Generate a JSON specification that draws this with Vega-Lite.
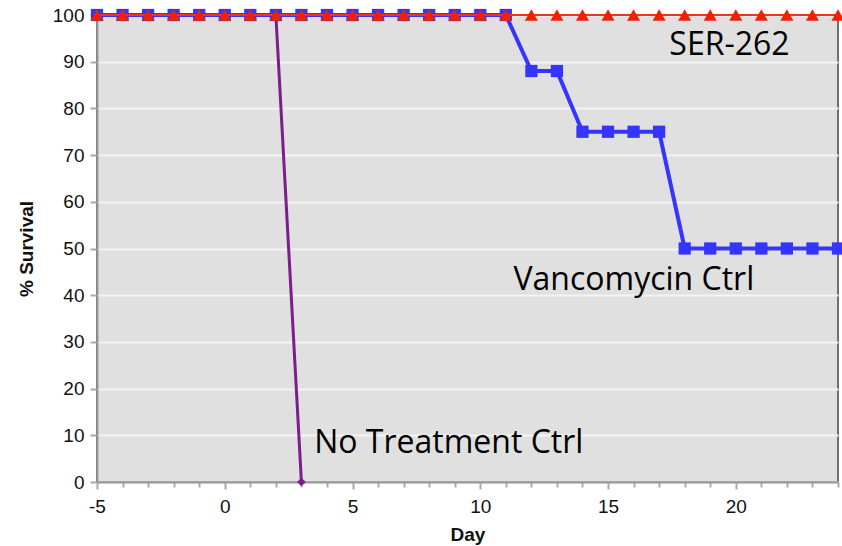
{
  "$schema": "https://vega.github.io/schema/vega-lite/v6.json",
  "autosize": "none",
  "width": 741,
  "height": 467,
  "padding": {"left": 97, "top": 15, "right": 4, "bottom": 64},
  "background": "white",
  "config": {
    "view": {"fill": "#e0e0e0", "stroke": "#707070", "strokeWidth": 2},
    "axis": {
      "labelFont": "Liberation Sans",
      "labelFontSize": 19,
      "labelColor": "#111",
      "titleFont": "Liberation Sans",
      "titleFontSize": 19,
      "titleFontWeight": "bold",
      "titleColor": "#111",
      "domainColor": "#999",
      "domainWidth": 2,
      "tickColor": "#aaa",
      "tickWidth": 2
    }
  },
  "datasets": {
    "series": [
      {"day": -5, "survival": 100, "group": "No Treatment Ctrl"},
      {"day": -4, "survival": 100, "group": "No Treatment Ctrl"},
      {"day": -3, "survival": 100, "group": "No Treatment Ctrl"},
      {"day": -2, "survival": 100, "group": "No Treatment Ctrl"},
      {"day": -1, "survival": 100, "group": "No Treatment Ctrl"},
      {"day": 0, "survival": 100, "group": "No Treatment Ctrl"},
      {"day": 1, "survival": 100, "group": "No Treatment Ctrl"},
      {"day": 2, "survival": 100, "group": "No Treatment Ctrl"},
      {"day": 3, "survival": 0, "group": "No Treatment Ctrl"},
      {"day": -5, "survival": 100, "group": "Vancomycin Ctrl"},
      {"day": -4, "survival": 100, "group": "Vancomycin Ctrl"},
      {"day": -3, "survival": 100, "group": "Vancomycin Ctrl"},
      {"day": -2, "survival": 100, "group": "Vancomycin Ctrl"},
      {"day": -1, "survival": 100, "group": "Vancomycin Ctrl"},
      {"day": 0, "survival": 100, "group": "Vancomycin Ctrl"},
      {"day": 1, "survival": 100, "group": "Vancomycin Ctrl"},
      {"day": 2, "survival": 100, "group": "Vancomycin Ctrl"},
      {"day": 3, "survival": 100, "group": "Vancomycin Ctrl"},
      {"day": 4, "survival": 100, "group": "Vancomycin Ctrl"},
      {"day": 5, "survival": 100, "group": "Vancomycin Ctrl"},
      {"day": 6, "survival": 100, "group": "Vancomycin Ctrl"},
      {"day": 7, "survival": 100, "group": "Vancomycin Ctrl"},
      {"day": 8, "survival": 100, "group": "Vancomycin Ctrl"},
      {"day": 9, "survival": 100, "group": "Vancomycin Ctrl"},
      {"day": 10, "survival": 100, "group": "Vancomycin Ctrl"},
      {"day": 11, "survival": 100, "group": "Vancomycin Ctrl"},
      {"day": 12, "survival": 88, "group": "Vancomycin Ctrl"},
      {"day": 13, "survival": 88, "group": "Vancomycin Ctrl"},
      {"day": 14, "survival": 75, "group": "Vancomycin Ctrl"},
      {"day": 15, "survival": 75, "group": "Vancomycin Ctrl"},
      {"day": 16, "survival": 75, "group": "Vancomycin Ctrl"},
      {"day": 17, "survival": 75, "group": "Vancomycin Ctrl"},
      {"day": 18, "survival": 50, "group": "Vancomycin Ctrl"},
      {"day": 19, "survival": 50, "group": "Vancomycin Ctrl"},
      {"day": 20, "survival": 50, "group": "Vancomycin Ctrl"},
      {"day": 21, "survival": 50, "group": "Vancomycin Ctrl"},
      {"day": 22, "survival": 50, "group": "Vancomycin Ctrl"},
      {"day": 23, "survival": 50, "group": "Vancomycin Ctrl"},
      {"day": 24, "survival": 50, "group": "Vancomycin Ctrl"},
      {"day": -5, "survival": 100, "group": "SER-262"},
      {"day": -4, "survival": 100, "group": "SER-262"},
      {"day": -3, "survival": 100, "group": "SER-262"},
      {"day": -2, "survival": 100, "group": "SER-262"},
      {"day": -1, "survival": 100, "group": "SER-262"},
      {"day": 0, "survival": 100, "group": "SER-262"},
      {"day": 1, "survival": 100, "group": "SER-262"},
      {"day": 2, "survival": 100, "group": "SER-262"},
      {"day": 3, "survival": 100, "group": "SER-262"},
      {"day": 4, "survival": 100, "group": "SER-262"},
      {"day": 5, "survival": 100, "group": "SER-262"},
      {"day": 6, "survival": 100, "group": "SER-262"},
      {"day": 7, "survival": 100, "group": "SER-262"},
      {"day": 8, "survival": 100, "group": "SER-262"},
      {"day": 9, "survival": 100, "group": "SER-262"},
      {"day": 10, "survival": 100, "group": "SER-262"},
      {"day": 11, "survival": 100, "group": "SER-262"},
      {"day": 12, "survival": 100, "group": "SER-262"},
      {"day": 13, "survival": 100, "group": "SER-262"},
      {"day": 14, "survival": 100, "group": "SER-262"},
      {"day": 15, "survival": 100, "group": "SER-262"},
      {"day": 16, "survival": 100, "group": "SER-262"},
      {"day": 17, "survival": 100, "group": "SER-262"},
      {"day": 18, "survival": 100, "group": "SER-262"},
      {"day": 19, "survival": 100, "group": "SER-262"},
      {"day": 20, "survival": 100, "group": "SER-262"},
      {"day": 21, "survival": 100, "group": "SER-262"},
      {"day": 22, "survival": 100, "group": "SER-262"},
      {"day": 23, "survival": 100, "group": "SER-262"},
      {"day": 24, "survival": 100, "group": "SER-262"}
    ],
    "labels": [
      {"day": 17.4, "survival": 93.6, "label": "SER-262"},
      {"day": 11.3, "survival": 43.3, "label": "Vancomycin Ctrl"},
      {"day": 3.5, "survival": 8.4, "label": "No Treatment Ctrl"}
    ]
  },
  "encoding": {
    "x": {
      "field": "day", "type": "quantitative",
      "scale": {"domain": [-5, 24], "nice": false, "zero": false},
      "axis": {
        "title": "Day",
        "grid": false,
        "values": [-5,-4,-3,-2,-1,0,1,2,3,4,5,6,7,8,9,10,11,12,13,14,15,16,17,18,19,20,21,22,23,24],
        "labelExpr": "datum.value % 5 === 0 ? ('' + datum.value) : ''",
        "tickSize": {"condition": {"test": "datum.value % 5 === 0", "value": 7}, "value": 5},
        "labelPadding": 8,
        "titlePadding": 9,
        "labelFlush": false
      }
    },
    "y": {
      "field": "survival", "type": "quantitative",
      "scale": {"domain": [0, 100], "nice": false},
      "axis": {
        "title": "% Survival",
        "values": [0,10,20,30,40,50,60,70,80,90,100],
        "grid": true,
        "gridColor": "#f4f4f4",
        "gridWidth": 2,
        "tickSize": 7,
        "labelPadding": 6,
        "titlePadding": 16,
        "labelFlush": false
      }
    }
  },
  "layer": [
    {
      "data": {"name": "series"},
      "transform": [{"filter": "datum.group === 'No Treatment Ctrl'"}],
      "mark": {"type": "line", "color": "#7b1e8c", "strokeWidth": 3}
    },
    {
      "data": {"name": "series"},
      "transform": [{"filter": "datum.group === 'No Treatment Ctrl'"}],
      "mark": {"type": "point", "shape": "diamond", "filled": true, "color": "#7b1e8c", "size": 75, "opacity": 1}
    },
    {
      "data": {"name": "series"},
      "transform": [{"filter": "datum.group === 'Vancomycin Ctrl'"}],
      "mark": {"type": "line", "color": "#3535ff", "strokeWidth": 4}
    },
    {
      "data": {"name": "series"},
      "transform": [{"filter": "datum.group === 'Vancomycin Ctrl'"}],
      "mark": {"type": "square", "filled": true, "color": "#3535ff", "size": 150, "opacity": 1}
    },
    {
      "data": {"name": "series"},
      "transform": [{"filter": "datum.group === 'SER-262'"}],
      "mark": {"type": "line", "color": "#ee3322", "strokeWidth": 2}
    },
    {
      "data": {"name": "series"},
      "transform": [{"filter": "datum.group === 'SER-262'"}],
      "mark": {"type": "point", "shape": "triangle-up", "filled": true, "color": "#ee2200", "size": 170, "opacity": 1}
    },
    {
      "data": {"name": "labels"},
      "mark": {"type": "text", "align": "left", "baseline": "middle", "font": "Open Sans", "fontSize": 32, "color": "#000"},
      "encoding": {"text": {"field": "label"}}
    }
  ]
}
